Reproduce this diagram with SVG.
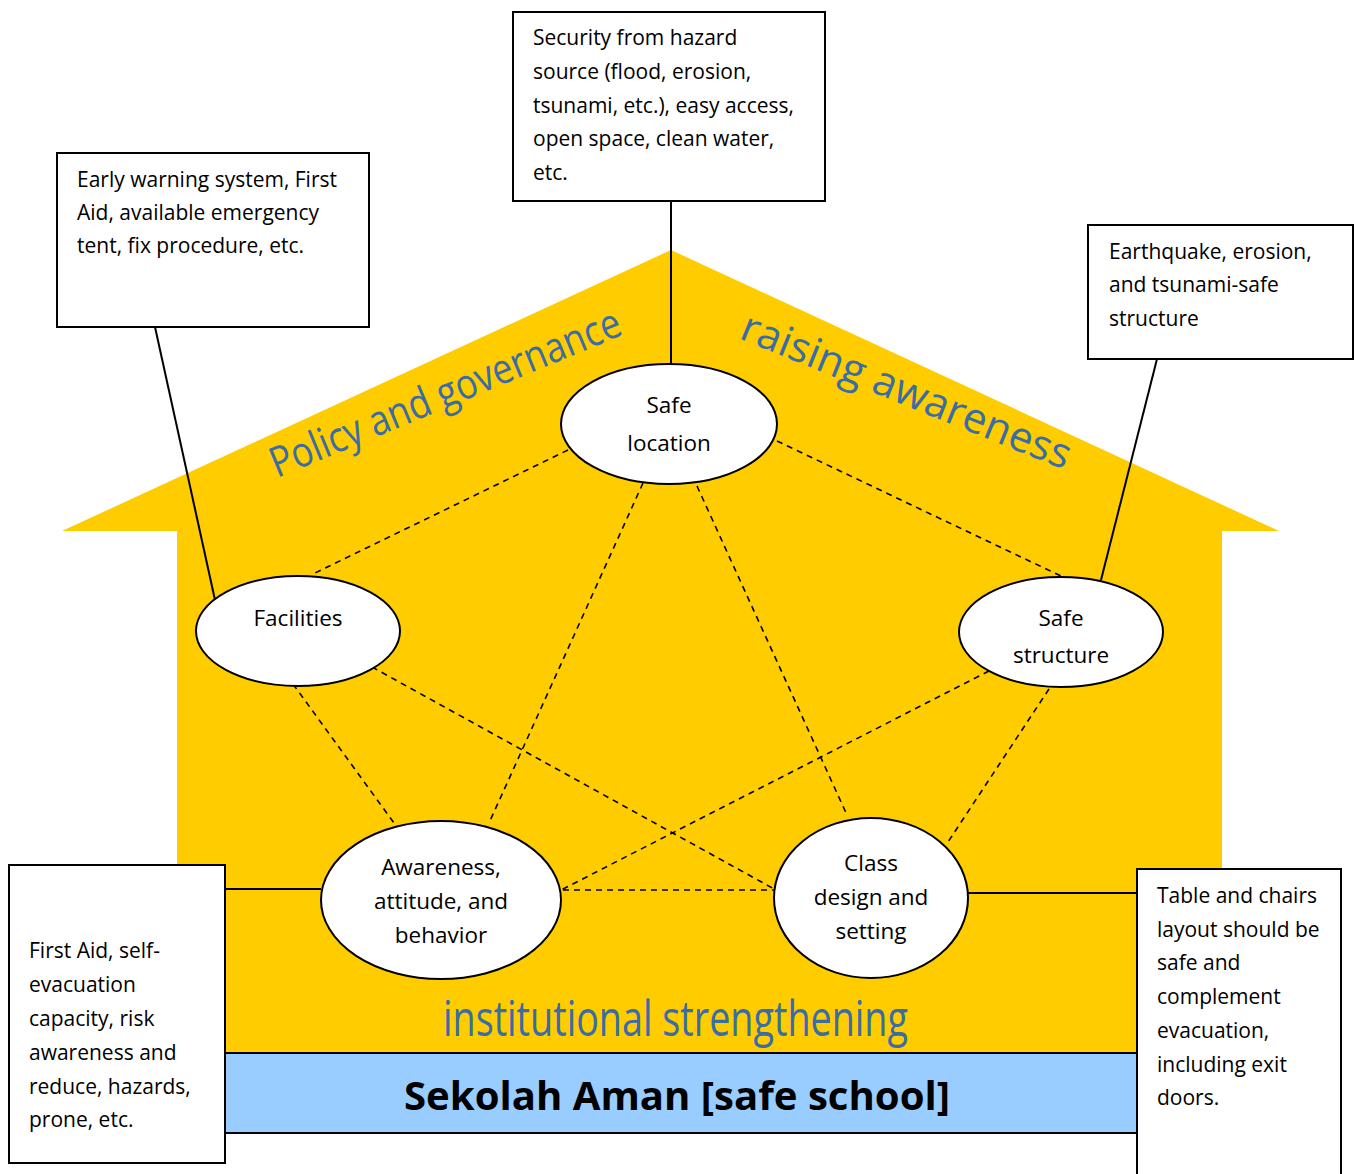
<svg xmlns="http://www.w3.org/2000/svg" width="1354" height="1174" viewBox="0 0 1354 1174">
<style>
.box{fill:#fff;stroke:#000;stroke-width:2}
.ell{fill:#fff;stroke:#000;stroke-width:2}
.t{font-family:"Open Sans",Lato,sans-serif;font-size:21px;fill:#000}
.et{font-family:"Open Sans",Lato,sans-serif;font-size:22.5px;fill:#000;text-anchor:middle}
.big{font-family:"Open Sans",Lato,sans-serif;fill:#3a6ca6}
.dash{stroke:#000;stroke-width:1.6;stroke-dasharray:6,5;fill:none}
.solid{stroke:#000;stroke-width:2;fill:none}
</style>
<rect width="1354" height="1174" fill="#fff"/>
<g id="house">
<polygon points="671,250 1279,531 1222,531 1222,1053 177,1053 177,531 62,531" fill="#ffcc00"/>
<rect x="177" y="1053" width="1000" height="80" fill="#99ccff"/>
<line x1="177" y1="1053" x2="1177" y2="1053" class="solid"/>
<line x1="177" y1="1133" x2="1177" y2="1133" class="solid"/>
<text class="big" font-size="42" textLength="376" lengthAdjust="spacingAndGlyphs" transform="translate(277,478) rotate(-22.5)">Policy and governance</text>
<text class="big" font-size="42" textLength="352" lengthAdjust="spacingAndGlyphs" transform="translate(738,338) rotate(22)">raising awareness</text>
<text class="big" x="443" y="1036" font-size="50" textLength="465" lengthAdjust="spacingAndGlyphs" font-family="Lato,sans-serif">institutional strengthening</text>
<text x="677" y="1110" font-family="'Open Sans',Lato,sans-serif" font-weight="bold" font-size="40" text-anchor="middle" textLength="546" lengthAdjust="spacingAndGlyphs">Sekolah Aman [safe school]</text>
</g>
<g id="connectors">
<line class="solid" x1="671" y1="201" x2="671" y2="364"/>
<line class="solid" x1="155" y1="327" x2="215" y2="600"/>
<line class="solid" x1="1157" y1="359" x2="1101" y2="580"/>
<line class="solid" x1="225" y1="889" x2="321" y2="889"/>
<line class="solid" x1="968" y1="893" x2="1137" y2="893"/>
<line class="dash" x1="568" y1="450" x2="313" y2="574"/>
<line class="dash" x1="777" y1="441" x2="1063" y2="577"/>
<line class="dash" x1="643" y1="483" x2="489" y2="823"/>
<line class="dash" x1="697" y1="486" x2="847" y2="815"/>
<line class="dash" x1="293" y1="684" x2="394" y2="823"/>
<line class="dash" x1="372" y1="667" x2="776" y2="890"/>
<line class="dash" x1="989" y1="671" x2="561" y2="890"/>
<line class="dash" x1="1049" y1="689" x2="946" y2="845"/>
<line class="dash" x1="563" y1="890" x2="776" y2="890"/>
</g>
<g id="box-location">
<rect class="box" x="513" y="12" width="312" height="189"/>
<text class="t" x="533" y="45">Security from hazard</text>
<text class="t" x="533" y="79">source (flood, erosion,</text>
<text class="t" x="533" y="113">tsunami, etc.), easy access,</text>
<text class="t" x="533" y="146">open space, clean water,</text>
<text class="t" x="533" y="180">etc.</text>
</g>
<g id="box-facilities">
<rect class="box" x="57" y="153" width="312" height="174"/>
<text class="t" x="77" y="187">Early warning system, First</text>
<text class="t" x="77" y="220">Aid, available emergency</text>
<text class="t" x="77" y="253">tent, fix procedure, etc.</text>
</g>
<g id="box-structure">
<rect class="box" x="1088" y="225" width="265" height="134"/>
<text class="t" x="1109" y="259">Earthquake, erosion,</text>
<text class="t" x="1109" y="292">and tsunami-safe</text>
<text class="t" x="1109" y="326">structure</text>
</g>
<g id="box-awareness">
<rect class="box" x="9" y="865" width="216" height="298"/>
<text class="t" x="29" y="958">First Aid, self-</text>
<text class="t" x="29" y="992">evacuation</text>
<text class="t" x="29" y="1026">capacity, risk</text>
<text class="t" x="29" y="1060">awareness and</text>
<text class="t" x="29" y="1094">reduce, hazards,</text>
<text class="t" x="29" y="1127">prone, etc.</text>
</g>
<g id="box-class">
<rect class="box" x="1137" y="869" width="204" height="320"/>
<text class="t" x="1157" y="903">Table and chairs</text>
<text class="t" x="1157" y="937">layout should be</text>
<text class="t" x="1157" y="970">safe and</text>
<text class="t" x="1157" y="1004">complement</text>
<text class="t" x="1157" y="1038">evacuation,</text>
<text class="t" x="1157" y="1072">including exit</text>
<text class="t" x="1157" y="1105">doors.</text>
</g>
<g id="node-safe-location">
<ellipse class="ell" cx="669" cy="424" rx="108" ry="60"/>
<text class="et" x="669" y="413">Safe</text>
<text class="et" x="669" y="451">location</text>
</g>
<g id="node-facilities">
<ellipse class="ell" cx="298" cy="631" rx="102" ry="55"/>
<text class="et" x="298" y="626">Facilities</text>
</g>
<g id="node-safe-structure">
<ellipse class="ell" cx="1061" cy="632" rx="102" ry="55"/>
<text class="et" x="1061" y="626">Safe</text>
<text class="et" x="1061" y="663">structure</text>
</g>
<g id="node-awareness">
<ellipse class="ell" cx="441" cy="900" rx="120" ry="79"/>
<text class="et" x="441" y="875" font-size="19.5">Awareness,</text>
<text class="et" x="441" y="909" font-size="19.5">attitude, and</text>
<text class="et" x="441" y="943" font-size="19.5">behavior</text>
</g>
<g id="node-class">
<ellipse class="ell" cx="871" cy="898" rx="97" ry="80"/>
<text class="et" x="871" y="871" font-size="19.5">Class</text>
<text class="et" x="871" y="905" font-size="19.5">design and</text>
<text class="et" x="871" y="939" font-size="19.5">setting</text>
</g>
</svg>
